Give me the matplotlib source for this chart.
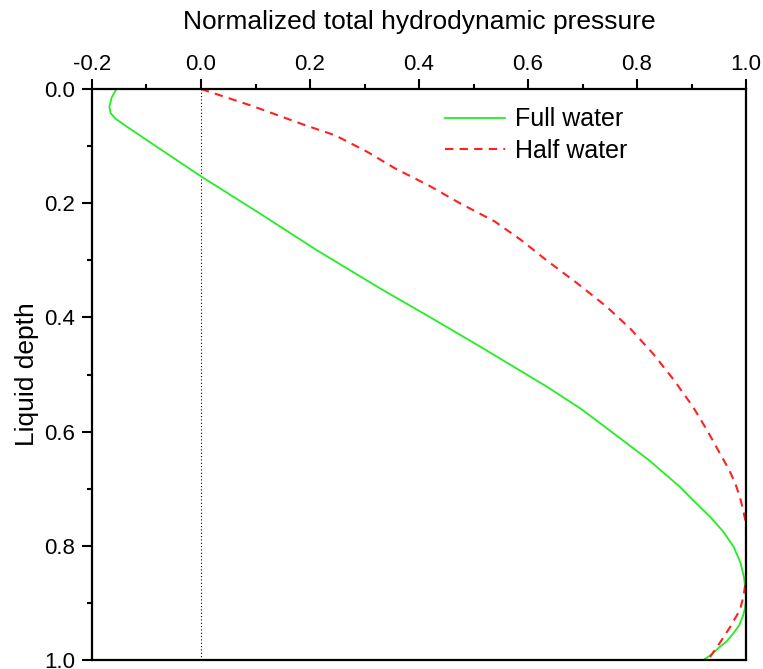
import matplotlib
matplotlib.use("Agg")
import matplotlib.pyplot as plt
from matplotlib.ticker import MultipleLocator, FormatStrFormatter

plt.rcParams['font.family'] = ['Liberation Sans', 'DejaVu Sans']

# Full water: depth (y) and normalized pressure (x)
full_depth = [0.0, 0.015, 0.031, 0.042, 0.052, 0.066, 0.10, 0.153, 0.218, 0.282, 0.35, 0.40,
              0.451, 0.49, 0.521, 0.56, 0.603, 0.65, 0.697, 0.725, 0.749, 0.775, 0.801,
              0.83, 0.854, 0.875, 0.895, 0.91, 0.924, 0.94, 0.953, 0.967, 0.977, 0.99, 1.0]
full_press = [-0.155, -0.164, -0.168, -0.166, -0.157, -0.136, -0.083, 0.0, 0.108, 0.212, 0.33,
              0.421, 0.512, 0.58, 0.634, 0.697, 0.757, 0.822, 0.879, 0.908, 0.934, 0.958,
              0.977, 0.990, 0.996, 0.999, 1.0, 0.998, 0.994, 0.987, 0.977, 0.965, 0.952,
              0.937, 0.922]

# Half water
half_depth = [0.0, 0.03, 0.063, 0.081, 0.11, 0.139, 0.17, 0.20, 0.232, 0.265, 0.300, 0.34,
              0.381, 0.42, 0.463, 0.51, 0.557, 0.60, 0.638, 0.665, 0.69, 0.715, 0.743, 0.761,
              0.86, 0.89, 0.912, 0.942, 0.970, 1.0]
half_press = [0.0, 0.095, 0.19, 0.246, 0.305, 0.356, 0.42, 0.475, 0.539, 0.588, 0.634, 0.69,
              0.744, 0.788, 0.829, 0.868, 0.903, 0.930, 0.952, 0.968, 0.980, 0.989, 0.996, 1.0,
              1.0, 0.995, 0.989, 0.971, 0.952, 0.930]

fig = plt.figure(figsize=(7.63, 6.69), dpi=100)
ax = fig.add_axes([92/763, 1-660/669, (746-92)/763, (660-89)/669])

ax.axvline(0.0, color='black', linestyle=(0, (1, 2)), linewidth=0.8)
ax.plot(full_press, full_depth, color='#22ee22', linewidth=1.3, label='Full water')
ax.plot(half_press, half_depth, color='#ff2020', linewidth=1.5, linestyle=(0, (4, 3)),
        label='Half water')

ax.set_xlim(-0.2, 1.0)
ax.set_ylim(1.0, 0.0)
ax.xaxis.tick_top()
ax.xaxis.set_label_position('top')
ax.xaxis.set_major_locator(MultipleLocator(0.2))
ax.xaxis.set_minor_locator(MultipleLocator(0.1))
ax.yaxis.set_major_locator(MultipleLocator(0.2))
ax.yaxis.set_minor_locator(MultipleLocator(0.1))
ax.xaxis.set_major_formatter(FormatStrFormatter('%.1f'))
ax.yaxis.set_major_formatter(FormatStrFormatter('%.1f'))
ax.tick_params(which='both', direction='out', top=True, bottom=False, left=True, right=False,
               labelsize=16, width=1.5)
ax.tick_params(axis='x', pad=3)
ax.tick_params(axis='y', pad=5)
ax.tick_params(which='major', length=7)
ax.tick_params(which='minor', length=3.8)
for sp in ax.spines.values():
    sp.set_linewidth(1.6)

ax.set_xlabel('Normalized total hydrodynamic pressure', fontsize=19, labelpad=18)
ax.set_ylabel('Liquid depth', fontsize=19, labelpad=4)

ax.legend(loc='upper left', bbox_to_anchor=(0.54, 0.968), borderaxespad=0, borderpad=0,
          frameon=False, fontsize=18, handlelength=2.4, handletextpad=0.4, labelspacing=0.3)

fig.savefig('out.png', dpi=100, facecolor='white')
